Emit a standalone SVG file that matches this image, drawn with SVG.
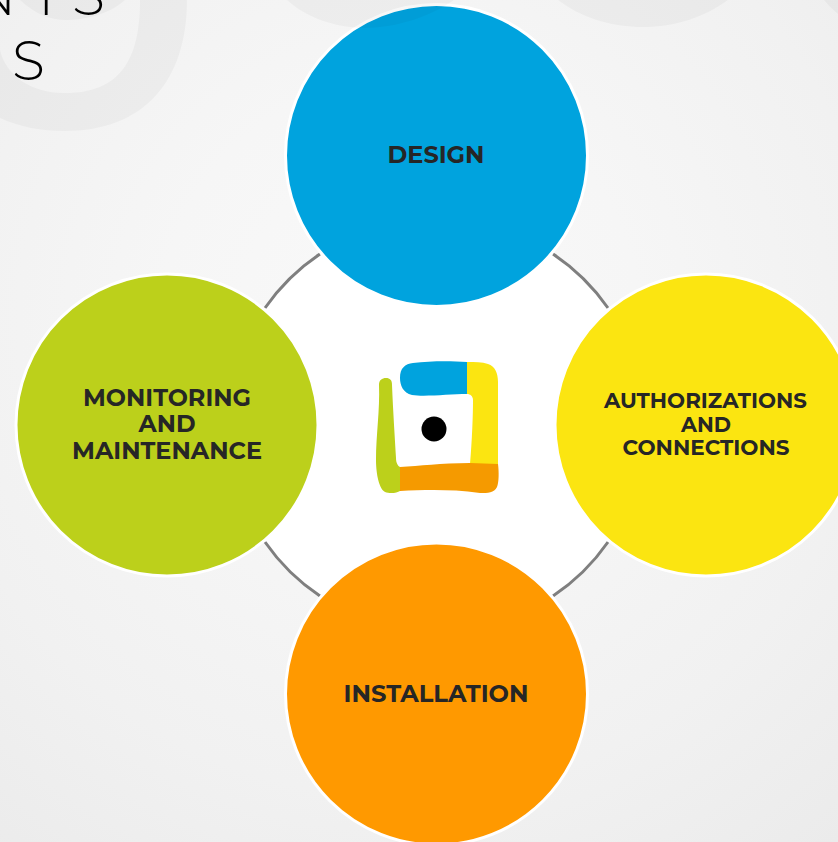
<svg xmlns="http://www.w3.org/2000/svg" width="838" height="842" viewBox="0 0 838 842">
<style>
.c{stroke:#fff;stroke-width:3}
.t{font-family:"Montserrat","Inter","Liberation Sans",sans-serif;font-weight:700;fill:#262626;text-anchor:middle;font-size:23px}
.h{font-family:"Montserrat","Inter","Liberation Sans",sans-serif;font-weight:300;fill:#000;font-size:54px}
.a{fill:none;stroke:#7f7f7f;stroke-width:3}
.g{fill:#000;fill-opacity:.03}
</style>
<defs><radialGradient id="bg" gradientUnits="userSpaceOnUse" cx="400" cy="320" r="680"><stop offset="0" stop-color="#f9f9f9"/><stop offset=".35" stop-color="#f6f6f6"/><stop offset=".7" stop-color="#f1f1f1"/><stop offset="1" stop-color="#ebebeb"/></radialGradient></defs>
<rect width="838" height="842" fill="url(#bg)"/>
<g id="ghost">
<path class="g" d="M140 0C140 60 120 93 65 93C30 93 6 75 0 50V118C20 127 40 131 65 131C145 131 187 80 187 0Z"/>
<path class="g" d="M20 0C35 14 50 20 65 20C90 20 112 12 125 0Z"/>
<path class="g" d="M558 0C580 17 610 27 643 27C675 27 705 17 728 0Z"/>
<path class="g" d="M824 0C828 5 833 10 838 14V0Z"/>
</g>
<text class="h" x="-28 31 72" y="15">NTS</text>
<text class="h" x="12" y="79.500">S</text>
<circle cx="436.500" cy="425" r="207" fill="#fff"/>
<g id="connectors">
<path class="a" d="M320 254A207 207 0 0 0 265 308"/>
<path class="a" d="M553 254A207 207 0 0 1 608 308"/>
<path class="a" d="M265 542A207 207 0 0 0 320 596"/>
<path class="a" d="M608 542A207 207 0 0 1 553 596"/>
</g>
<g id="design"><circle class="c" cx="436.500" cy="155.500" r="151" fill="#00a3de"/><text class="t" x="436" y="163" textLength="97" lengthAdjust="spacingAndGlyphs">DESIGN</text></g>
<path class="g" d="M287 0C305 17 335 28 365 28C395 28 430 17 454 0Z"/>
<g id="authorizations"><circle class="c" cx="706" cy="425" r="151" fill="#fbe511"/>
<text class="t" x="705.500" y="408" textLength="203" lengthAdjust="spacingAndGlyphs" style="font-size:21px">AUTHORIZATIONS</text>
<text class="t" x="706" y="432" style="font-size:21px" textLength="50" lengthAdjust="spacingAndGlyphs">AND</text>
<text class="t" x="706" y="455" style="font-size:21px" textLength="167" lengthAdjust="spacingAndGlyphs">CONNECTIONS</text></g>
<g id="installation"><circle class="c" cx="436.500" cy="694" r="151" fill="#ff9900"/><text class="t" x="436" y="702" textLength="185" lengthAdjust="spacingAndGlyphs">INSTALLATION</text></g>
<g id="monitoring"><circle class="c" cx="167" cy="425" r="151" fill="#bcd01b"/>
<text class="t" x="167" y="406" textLength="168" lengthAdjust="spacingAndGlyphs">MONITORING</text>
<text class="t" x="167" y="432" textLength="57" lengthAdjust="spacingAndGlyphs">AND</text>
<text class="t" x="167" y="459" textLength="190" lengthAdjust="spacingAndGlyphs">MAINTENANCE</text></g>
<g id="logo">
<path fill="#00a3de" d="M467 362L467 394C450 394 425 397 412 395C403 393 400 385 400 378C400 368 405 364 413 363C430 361 450 361 467 362Z"/>
<path fill="#fbe511" d="M467 362C475 362 482 362 488 364C495 366 498 373 498 382C498 410 498 440 498 464L470 464C472 440 473 415 473 400C473 396 470 394 467 394Z"/>
<path fill="#f59a00" d="M400 467C420 466 440 463 470 463L498 464C499 472 499 482 497 487C494 493 488 493 480 493C450 489 425 490 400 491Z"/>
<path fill="#bcd01b" d="M379 385C379 380 382 378 386 378C390 378 392 380 392 385C393 410 395 440 396 458C396 463 398 466 400 467L400 491C397 493 390 494 385 492C378 488 376 470 376 460C376 435 380 410 379 385Z"/>
<circle cx="434" cy="429" r="12.500" fill="#000"/>
</g>
</svg>
